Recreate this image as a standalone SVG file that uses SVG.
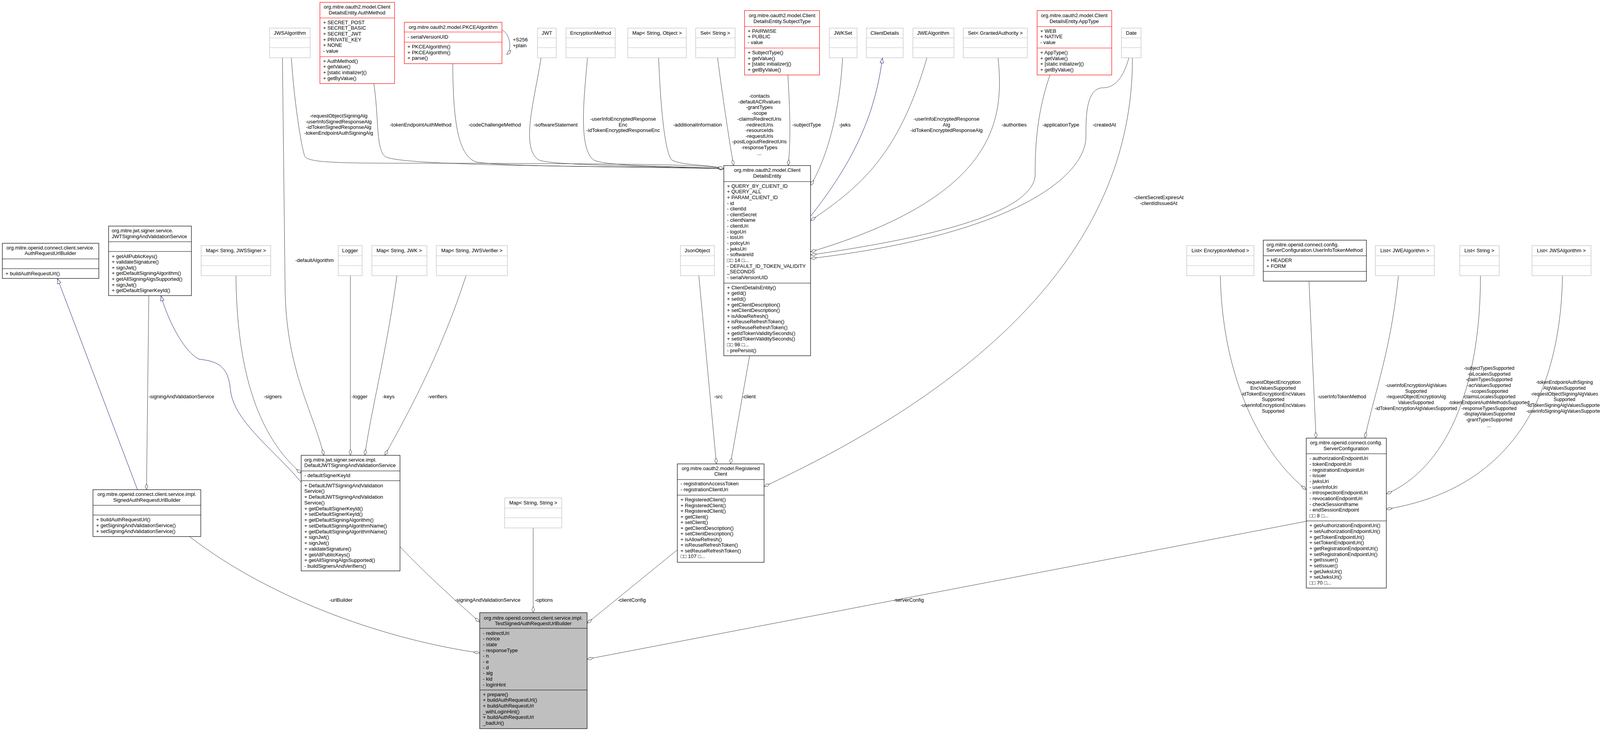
<svg xmlns="http://www.w3.org/2000/svg" width="4287" height="1872" viewBox="0 0 4287 1872">
<style>
text{font-family:"Liberation Sans",Arial,sans-serif;font-size:13px;fill:#000}
.c{text-anchor:middle}
.sm{font-size:12.5px}
.xs{font-size:12px}
.bk{fill:#fff;stroke:#000;stroke-width:1.2}
.gr{fill:#fff;stroke:#bfbfbf;stroke-width:1.2}
.rd{fill:#fff;stroke:#ff0000;stroke-width:1.2}
.main{fill:#bfbfbf;stroke:#000;stroke-width:1.2}
.lb{stroke:#000;stroke-width:1.2}
.lg{stroke:#bfbfbf;stroke-width:1.2}
.lr{stroke:#ff0000;stroke-width:1.2}
.e{fill:none;stroke:#404040;stroke-width:1}
.i{fill:none;stroke:#191970;stroke-width:1}
</style>
<defs>
<marker id="dia" viewBox="0 0 16 8" refX="16" refY="4" markerWidth="16" markerHeight="8" markerUnits="userSpaceOnUse" orient="auto"><path d="M0.5,4 L8,0.5 L15.5,4 L8,7.5 Z" fill="#fff" stroke="#404040"/></marker>
<marker id="tri" viewBox="0 0 14 10" refX="14" refY="5" markerWidth="14" markerHeight="10" markerUnits="userSpaceOnUse" orient="auto"><path d="M0.5,0.5 L13.5,5 L0.5,9.5 Z" fill="#fff" stroke="#191970"/></marker>
</defs>
<rect width="4287" height="1872" fill="#fff"/>

<g id="connectors">
<path class="e" marker-end="url(#dia)" d="M746,148 C752,250 770,370 780,400 C790,420 900,418 1200,418 C1600,420 1800,420 1853,432"/>
<path class="e" marker-end="url(#dia)" d="M957,214 C970,300 962,380 985,400 C1010,425 1500,425 1853,432"/>
<path class="e" marker-end="url(#dia)" d="M1159,163 C1160,300 1170,400 1220,415 C1300,428 1600,425 1853,432"/>
<path class="e" marker-end="url(#dia)" d="M1385,148 C1370,250 1330,380 1380,410 C1420,425 1700,425 1853,432"/>
<path class="e" marker-end="url(#dia)" d="M1504,148 C1495,250 1480,380 1520,410 C1560,428 1750,425 1853,432"/>
<path class="e" marker-end="url(#dia)" d="M1686,148 C1690,250 1700,390 1720,410 C1750,425 1810,420 1853,432"/>
<path class="e" marker-end="url(#dia)" d="M1837,148 C1850,250 1870,380 1878,424"/>
<path class="e" marker-end="url(#dia)" d="M2017,192 C2022,280 2025,350 2018,424"/>
<path class="e" marker-end="url(#dia)" d="M2157,148 C2150,280 2120,400 2075,475"/>
<path class="i" marker-end="url(#tri)" d="M2075,554 C2180,420 2240,300 2259,148"/>
<path class="e" marker-end="url(#dia)" d="M2373,148 C2300,400 2200,480 2075,565"/>
<path class="e" marker-end="url(#dia)" d="M2555,148 C2570,300 2560,500 2075,645"/>
<path class="e" marker-end="url(#dia)" d="M2688,192 C2650,300 2650,400 2650,450 C2640,560 2300,620 2075,653"/>
<path class="e" marker-end="url(#dia)" d="M2890,148 C2870,220 2840,225 2820,225 C2780,230 2780,300 2780,350 C2780,450 2600,600 2075,662"/>
<path class="e" marker-end="url(#dia)" d="M2899,148 C2900,500 2700,900 1956,1246"/>
<path class="e" marker-end="url(#dia)" d="M1285,77 C1305,85 1312,125 1297,140"/>
<path class="e" marker-end="url(#dia)" d="M1789,706 L1834,1188"/>
<path class="e" marker-end="url(#dia)" d="M1919,911 L1870,1188"/>
<path class="e" marker-end="url(#dia)" d="M723,148 L730,750 C735,950 800,1050 829,1166"/>
<path class="e" marker-end="url(#dia)" d="M604,706 C606,900 640,1100 771,1212"/>
<path class="e" marker-end="url(#dia)" d="M897,706 L897,1166"/>
<path class="e" marker-end="url(#dia)" d="M1016,706 C990,900 950,1050 934,1166"/>
<path class="e" marker-end="url(#dia)" d="M1193,706 C1130,900 1050,1050 985,1166"/>
<path class="i" marker-end="url(#tri)" d="M771,1235 C700,1150 600,1080 590,1000 C585,940 560,925 510,920 C470,900 430,820 412,757"/>
<path class="e" marker-end="url(#dia)" d="M381,757 L375,1254"/>
<path class="i" marker-end="url(#tri)" d="M352,1254 L147,713"/>
<path class="e" marker-end="url(#dia)" d="M485,1374 C700,1540 1000,1640 1228,1672"/>
<path class="e" marker-end="url(#dia)" d="M1024,1400 C1100,1480 1180,1550 1228,1593"/>
<path class="e" marker-end="url(#dia)" d="M1365,1352 L1365,1569"/>
<path class="e" marker-end="url(#dia)" d="M1734,1408 L1503,1596"/>
<path class="e" marker-end="url(#dia)" d="M3344,1335 L1503,1688"/>
<path class="e" marker-end="url(#dia)" d="M3124,706 C3130,1000 3250,1180 3344,1254"/>
<path class="e" marker-end="url(#dia)" d="M3351,720 L3369,1122"/>
<path class="e" marker-end="url(#dia)" d="M3580,706 C3560,900 3520,1000 3494,1122"/>
<path class="e" marker-end="url(#dia)" d="M3790,706 C3790,1000 3700,1200 3549,1265"/>
<path class="e" marker-end="url(#dia)" d="M4000,706 C3995,1000 3880,1250 3549,1304"/>

<text x="1313" y="106">+S256</text><text x="1313" y="121">+plain</text>
<text class="c" x="867"><tspan x="867" y="301">-requestObjectSigningAlg</tspan><tspan x="867" y="316">-userInfoSignedResponseAlg</tspan><tspan x="867" y="330">-idTokenSignedResponseAlg</tspan><tspan x="867" y="345">-tokenEndpointAuthSigningAlg</tspan></text>
<text x="998" y="324">-tokenEndpointAuthMethod</text>
<text x="1199" y="324">-codeChallengeMethod</text>
<text x="1366" y="324">-softwareStatement</text>
<text class="c"><tspan x="1595" y="309">-userInfoEncryptedResponse</tspan><tspan x="1595" y="324">Enc</tspan><tspan x="1595" y="338">-idTokenEncryptedResponseEnc</tspan></text>
<text x="1723" y="324">-additionalInformation</text>
<text class="c"><tspan x="1944" y="250">-contacts</tspan><tspan x="1944" y="265">-defaultACRvalues</tspan><tspan x="1944" y="279">-grantTypes</tspan><tspan x="1944" y="294">-scope</tspan><tspan x="1944" y="309">-claimsRedirectUris</tspan><tspan x="1944" y="324">-redirectUris</tspan><tspan x="1944" y="338">-resourceIds</tspan><tspan x="1944" y="353">-requestUris</tspan><tspan x="1944" y="367">-postLogoutRedirectUris</tspan><tspan x="1944" y="382">-responseTypes</tspan><tspan x="1944" y="397">...</tspan></text>
<text x="2028" y="324">-subjectType</text>
<text x="2148" y="324">-jwks</text>
<text class="c"><tspan x="2423" y="309">-userInfoEncryptedResponse</tspan><tspan x="2423" y="324">Alg</tspan><tspan x="2423" y="338">-idTokenEncryptedResponseAlg</tspan></text>
<text x="2564" y="324">-authorities</text>
<text x="2668" y="324">-applicationType</text>
<text x="2797" y="324">-createdAt</text>
<text class="c"><tspan x="2966" y="510">-clientSecretExpiresAt</tspan><tspan x="2966" y="525">-clientIdIssuedAt</tspan></text>
<text x="756" y="671">-defaultAlgorithm</text>
<text x="380" y="1020">-signingAndValidationService</text>
<text x="675" y="1020">-signers</text>
<text x="900" y="1020">-logger</text>
<text x="979" y="1020">-keys</text>
<text x="1095" y="1020">-verifiers</text>
<text x="1828" y="1020">-src</text>
<text x="1900" y="1020">-client</text>
<text x="843" y="1541">-urlBuilder</text>
<text x="1164" y="1541">-signingAndValidationService</text>
<text x="1369" y="1541">-options</text>
<text x="1581" y="1541">-clientConfig</text>
<text x="2287" y="1541">-serverConfig</text>
<text class="c sm"><tspan x="3259" y="983">-requestObjectEncryption</tspan><tspan x="3259" y="998">EncValuesSupported</tspan><tspan x="3259" y="1013">-idTokenEncryptionEncValues</tspan><tspan x="3259" y="1027">Supported</tspan><tspan x="3259" y="1042">-userinfoEncryptionEncValues</tspan><tspan x="3259" y="1057">Supported</tspan></text>
<text class="c sm" x="3435" y="1020">-userInfoTokenMethod</text>
<text class="c xs"><tspan x="3625" y="991">-userinfoEncryptionAlgValues</tspan><tspan x="3625" y="1006">Supported</tspan><tspan x="3625" y="1020">-requestObjectEncryptionAlg</tspan><tspan x="3625" y="1035">ValuesSupported</tspan><tspan x="3625" y="1050">-idTokenEncryptionAlgValuesSupported</tspan></text>
<text class="c xs"><tspan x="3812" y="947">-subjectTypesSupported</tspan><tspan x="3812" y="962">-uiLocalesSupported</tspan><tspan x="3812" y="976">-claimTypesSupported</tspan><tspan x="3812" y="991">-acrValuesSupported</tspan><tspan x="3812" y="1006">-scopesSupported</tspan><tspan x="3812" y="1020">-claimsLocalesSupported</tspan><tspan x="3812" y="1035">-tokenEndpointAuthMethodsSupported</tspan><tspan x="3812" y="1050">-responseTypesSupported</tspan><tspan x="3812" y="1064">-displayValuesSupported</tspan><tspan x="3812" y="1079">-grantTypesSupported</tspan><tspan x="3812" y="1094">...</tspan></text>
<text class="c xs"><tspan x="4005" y="983">-tokenEndpointAuthSigning</tspan><tspan x="4005" y="998">AlgValuesSupported</tspan><tspan x="4005" y="1013">-requestObjectSigningAlgValues</tspan><tspan x="4005" y="1027">Supported</tspan><tspan x="4005" y="1042">-idTokenSigningAlgValuesSupported</tspan><tspan x="4005" y="1057">-userinfoSigningAlgValuesSupported</tspan></text>
</g>

<g id="JWSAlgorithm"><rect class="gr" x="690" y="72" width="104" height="76"/><line class="lg" x1="690" y1="97" x2="794" y2="97"/><line class="lg" x1="690" y1="122" x2="794" y2="122"/><text class="c" x="742" y="89">JWSAlgorithm</text></g>
<g id="AuthMethod"><rect class="rd" x="819" y="6" width="191" height="208"/><line class="lr" x1="819" y1="46" x2="1010" y2="46"/><line class="lr" x1="819" y1="145" x2="1010" y2="145"/>
<text class="c"><tspan x="914" y="22">org.mitre.oauth2.model.Client</tspan><tspan x="914" y="37">DetailsEntity.AuthMethod</tspan></text>
<text><tspan x="827" y="62">+ SECRET_POST</tspan><tspan x="827" y="76">+ SECRET_BASIC</tspan><tspan x="827" y="91">+ SECRET_JWT</tspan><tspan x="827" y="106">+ PRIVATE_KEY</tspan><tspan x="827" y="120">+ NONE</tspan><tspan x="827" y="135">- value</tspan></text>
<text><tspan x="827" y="161">+ AuthMethod()</tspan><tspan x="827" y="175">+ getValue()</tspan><tspan x="827" y="190">+ [static initializer]()</tspan><tspan x="827" y="205">+ getByValue()</tspan></text></g>
<g id="PKCEAlgorithm"><rect class="rd" x="1035" y="57" width="250" height="106"/><line class="lr" x1="1035" y1="82" x2="1285" y2="82"/><line class="lr" x1="1035" y1="108" x2="1285" y2="108"/>
<text class="c" x="1160" y="74">org.mitre.oauth2.model.PKCEAlgorithm</text>
<text x="1043" y="99">- serialVersionUID</text>
<text><tspan x="1043" y="124">+ PKCEAlgorithm()</tspan><tspan x="1043" y="139">+ PKCEAlgorithm()</tspan><tspan x="1043" y="153">+ parse()</tspan></text></g>
<g id="JWT"><rect class="gr" x="1376" y="72" width="48" height="76"/><line class="lg" x1="1376" y1="97" x2="1424" y2="97"/><line class="lg" x1="1376" y1="122" x2="1424" y2="122"/><text class="c" x="1400" y="89">JWT</text></g>
<g id="EncryptionMethod"><rect class="gr" x="1449" y="72" width="126" height="76"/><line class="lg" x1="1449" y1="97" x2="1575" y2="97"/><line class="lg" x1="1449" y1="122" x2="1575" y2="122"/><text class="c" x="1512" y="89">EncryptionMethod</text></g>
<g id="MapStringObject"><rect class="gr" x="1607" y="72" width="150" height="76"/><line class="lg" x1="1607" y1="97" x2="1757" y2="97"/><line class="lg" x1="1607" y1="122" x2="1757" y2="122"/><text class="c" x="1682" y="89">Map&lt; String, Object &gt;</text></g>
<g id="SetString"><rect class="gr" x="1781" y="72" width="101" height="76"/><line class="lg" x1="1781" y1="97" x2="1882" y2="97"/><line class="lg" x1="1781" y1="122" x2="1882" y2="122"/><text class="c" x="1831" y="89">Set&lt; String &gt;</text></g>
<g id="SubjectType"><rect class="rd" x="1906" y="27" width="192" height="165"/><line class="lr" x1="1906" y1="68" x2="2098" y2="68"/><line class="lr" x1="1906" y1="123" x2="2098" y2="123"/>
<text class="c"><tspan x="2002" y="44">org.mitre.oauth2.model.Client</tspan><tspan x="2002" y="59">DetailsEntity.SubjectType</tspan></text>
<text><tspan x="1914" y="84">+ PAIRWISE</tspan><tspan x="1914" y="98">+ PUBLIC</tspan><tspan x="1914" y="113">- value</tspan></text>
<text><tspan x="1914" y="139">+ SubjectType()</tspan><tspan x="1914" y="154">+ getValue()</tspan><tspan x="1914" y="168">+ [static initializer]()</tspan><tspan x="1914" y="183">+ getByValue()</tspan></text></g>
<g id="JWKSet"><rect class="gr" x="2123" y="72" width="71" height="76"/><line class="lg" x1="2123" y1="97" x2="2194" y2="97"/><line class="lg" x1="2123" y1="122" x2="2194" y2="122"/><text class="c" x="2158" y="89">JWKSet</text></g>
<g id="ClientDetails"><rect class="gr" x="2218" y="72" width="94" height="76"/><line class="lg" x1="2218" y1="97" x2="2312" y2="97"/><line class="lg" x1="2218" y1="122" x2="2312" y2="122"/><text class="c" x="2265" y="89">ClientDetails</text></g>
<g id="JWEAlgorithm"><rect class="gr" x="2337" y="72" width="105" height="76"/><line class="lg" x1="2337" y1="97" x2="2442" y2="97"/><line class="lg" x1="2337" y1="122" x2="2442" y2="122"/><text class="c" x="2389" y="89">JWEAlgorithm</text></g>
<g id="SetGrantedAuthority"><rect class="gr" x="2466" y="72" width="164" height="76"/><line class="lg" x1="2466" y1="97" x2="2630" y2="97"/><line class="lg" x1="2466" y1="122" x2="2630" y2="122"/><text class="c" x="2548" y="89">Set&lt; GrantedAuthority &gt;</text></g>
<g id="AppType"><rect class="rd" x="2655" y="27" width="191" height="165"/><line class="lr" x1="2655" y1="68" x2="2846" y2="68"/><line class="lr" x1="2655" y1="123" x2="2846" y2="123"/>
<text class="c"><tspan x="2750" y="44">org.mitre.oauth2.model.Client</tspan><tspan x="2750" y="59">DetailsEntity.AppType</tspan></text>
<text><tspan x="2663" y="84">+ WEB</tspan><tspan x="2663" y="98">+ NATIVE</tspan><tspan x="2663" y="113">- value</tspan></text>
<text><tspan x="2663" y="139">+ AppType()</tspan><tspan x="2663" y="154">+ getValue()</tspan><tspan x="2663" y="168">+ [static initializer]()</tspan><tspan x="2663" y="183">+ getByValue()</tspan></text></g>
<g id="Date"><rect class="gr" x="2871" y="72" width="50" height="76"/><line class="lg" x1="2871" y1="97" x2="2921" y2="97"/><line class="lg" x1="2871" y1="122" x2="2921" y2="122"/><text class="c" x="2896" y="89">Date</text></g>

<g id="ClientDetailsEntity"><rect class="bk" x="1853" y="424" width="222" height="487"/><line class="lb" x1="1853" y1="465" x2="2075" y2="465"/><line class="lb" x1="1853" y1="725" x2="2075" y2="725"/>
<text class="c"><tspan x="1964" y="440">org.mitre.oauth2.model.Client</tspan><tspan x="1964" y="455">DetailsEntity</tspan></text>
<text><tspan x="1861" y="481">+ QUERY_BY_CLIENT_ID</tspan><tspan x="1861" y="495">+ QUERY_ALL</tspan><tspan x="1861" y="510">+ PARAM_CLIENT_ID</tspan><tspan x="1861" y="525">- id</tspan><tspan x="1861" y="539">- clientId</tspan><tspan x="1861" y="554">- clientSecret</tspan><tspan x="1861" y="568">- clientName</tspan><tspan x="1861" y="583">- clientUri</tspan><tspan x="1861" y="598">- logoUri</tspan><tspan x="1861" y="612">- tosUri</tspan><tspan x="1861" y="627">- policyUri</tspan><tspan x="1861" y="642">- jwksUri</tspan><tspan x="1861" y="656">- softwareId</tspan><tspan x="1861" y="671">□□ 14 □...</tspan><tspan x="1861" y="686">- DEFAULT_ID_TOKEN_VALIDITY</tspan><tspan x="1861" y="700">_SECONDS</tspan><tspan x="1861" y="715">- serialVersionUID</tspan></text>
<text><tspan x="1861" y="741">+ ClientDetailsEntity()</tspan><tspan x="1861" y="755">+ getId()</tspan><tspan x="1861" y="770">+ setId()</tspan><tspan x="1861" y="785">+ getClientDescription()</tspan><tspan x="1861" y="799">+ setClientDescription()</tspan><tspan x="1861" y="814">+ isAllowRefresh()</tspan><tspan x="1861" y="828">+ isReuseRefreshToken()</tspan><tspan x="1861" y="843">+ setReuseRefreshToken()</tspan><tspan x="1861" y="858">+ getIdTokenValiditySeconds()</tspan><tspan x="1861" y="872">+ setIdTokenValiditySeconds()</tspan><tspan x="1861" y="887">□□ 98 □...</tspan><tspan x="1861" y="902">- prePersist()</tspan></text></g>

<g id="AuthRequestUrlBuilder"><rect class="bk" x="6" y="623" width="247" height="90"/><line class="lb" x1="6" y1="663" x2="253" y2="663"/><line class="lb" x1="6" y1="688" x2="253" y2="688"/>
<text class="c"><tspan x="129" y="639">org.mitre.openid.connect.client.service.</tspan><tspan x="129" y="653">AuthRequestUrlBuilder</tspan></text>
<text x="14" y="705">+ buildAuthRequestUrl()</text></g>
<g id="JWTSigningAndValidationService"><rect class="bk" x="278" y="579" width="212" height="178"/><line class="lb" x1="278" y1="619" x2="490" y2="619"/><line class="lb" x1="278" y1="644" x2="490" y2="644"/>
<text><tspan x="286" y="595">org.mitre.jwt.signer.service.</tspan><tspan x="286" y="610">JWTSigningAndValidationService</tspan></text>
<text><tspan x="286" y="661">+ getAllPublicKeys()</tspan><tspan x="286" y="675">+ validateSignature()</tspan><tspan x="286" y="690">+ signJwt()</tspan><tspan x="286" y="704">+ getDefaultSigningAlgorithm()</tspan><tspan x="286" y="719">+ getAllSigningAlgsSupported()</tspan><tspan x="286" y="734">+ signJwt()</tspan><tspan x="286" y="748">+ getDefaultSignerKeyId()</tspan></text></g>
<g id="MapStringJWSSigner"><rect class="gr" x="515" y="629" width="178" height="77"/><line class="lg" x1="515" y1="655" x2="693" y2="655"/><line class="lg" x1="515" y1="680" x2="693" y2="680"/><text class="c" x="604" y="646">Map&lt; String, JWSSigner &gt;</text></g>
<g id="Logger"><rect class="gr" x="866" y="629" width="61" height="77"/><line class="lg" x1="866" y1="655" x2="927" y2="655"/><line class="lg" x1="866" y1="680" x2="927" y2="680"/><text class="c" x="896" y="646">Logger</text></g>
<g id="MapStringJWK"><rect class="gr" x="952" y="629" width="141" height="77"/><line class="lg" x1="952" y1="655" x2="1093" y2="655"/><line class="lg" x1="952" y1="680" x2="1093" y2="680"/><text class="c" x="1022" y="646">Map&lt; String, JWK &gt;</text></g>
<g id="MapStringJWSVerifier"><rect class="gr" x="1117" y="629" width="182" height="77"/><line class="lg" x1="1117" y1="655" x2="1299" y2="655"/><line class="lg" x1="1117" y1="680" x2="1299" y2="680"/><text class="c" x="1208" y="646">Map&lt; String, JWSVerifier &gt;</text></g>
<g id="JsonObject"><rect class="gr" x="1742" y="629" width="87" height="77"/><line class="lg" x1="1742" y1="655" x2="1829" y2="655"/><line class="lg" x1="1742" y1="680" x2="1829" y2="680"/><text class="c" x="1785" y="646">JsonObject</text></g>

<g id="DefaultJWTSigningAndValidationService"><rect class="bk" x="771" y="1166" width="253" height="296"/><line class="lb" x1="771" y1="1206" x2="1024" y2="1206"/><line class="lb" x1="771" y1="1231" x2="1024" y2="1231"/>
<text><tspan x="779" y="1182">org.mitre.jwt.signer.service.impl.</tspan><tspan x="779" y="1196">DefaultJWTSigningAndValidationService</tspan></text>
<text x="779" y="1222">- defaultSignerKeyId</text>
<text><tspan x="779" y="1248">+ DefaultJWTSigningAndValidation</tspan><tspan x="779" y="1262">Service()</tspan><tspan x="779" y="1277">+ DefaultJWTSigningAndValidation</tspan><tspan x="779" y="1292">Service()</tspan><tspan x="779" y="1307">+ getDefaultSignerKeyId()</tspan><tspan x="779" y="1321">+ setDefaultSignerKeyId()</tspan><tspan x="779" y="1336">+ getDefaultSigningAlgorithm()</tspan><tspan x="779" y="1351">+ setDefaultSigningAlgorithmName()</tspan><tspan x="779" y="1366">+ getDefaultSigningAlgorithmName()</tspan><tspan x="779" y="1380">+ signJwt()</tspan><tspan x="779" y="1395">+ signJwt()</tspan><tspan x="779" y="1410">+ validateSignature()</tspan><tspan x="779" y="1425">+ getAllPublicKeys()</tspan><tspan x="779" y="1439">+ getAllSigningAlgsSupported()</tspan><tspan x="779" y="1454">- buildSignersAndVerifiers()</tspan></text></g>
<g id="SignedAuthRequestUrlBuilder"><rect class="bk" x="238" y="1254" width="276" height="120"/><line class="lb" x1="238" y1="1294" x2="514" y2="1294"/><line class="lb" x1="238" y1="1319" x2="514" y2="1319"/>
<text class="c"><tspan x="376" y="1270">org.mitre.openid.connect.client.service.impl.</tspan><tspan x="376" y="1285">SignedAuthRequestUrlBuilder</tspan></text>
<text><tspan x="246" y="1335">+ buildAuthRequestUrl()</tspan><tspan x="246" y="1350">+ getSigningAndValidationService()</tspan><tspan x="246" y="1365">+ setSigningAndValidationService()</tspan></text></g>
<g id="MapStringString"><rect class="gr" x="1292" y="1275" width="146" height="77"/><line class="lg" x1="1292" y1="1301" x2="1438" y2="1301"/><line class="lg" x1="1292" y1="1326" x2="1438" y2="1326"/><text class="c" x="1365" y="1292">Map&lt; String, String &gt;</text></g>
<g id="RegisteredClient"><rect class="bk" x="1734" y="1188" width="222" height="252"/><line class="lb" x1="1734" y1="1228" x2="1956" y2="1228"/><line class="lb" x1="1734" y1="1268" x2="1956" y2="1268"/>
<text class="c"><tspan x="1845" y="1204">org.mitre.oauth2.model.Registered</tspan><tspan x="1845" y="1218">Client</tspan></text>
<text><tspan x="1742" y="1243">- registrationAccessToken</tspan><tspan x="1742" y="1258">- registrationClientUri</tspan></text>
<text><tspan x="1742" y="1284">+ RegisteredClient()</tspan><tspan x="1742" y="1299">+ RegisteredClient()</tspan><tspan x="1742" y="1313">+ RegisteredClient()</tspan><tspan x="1742" y="1328">+ getClient()</tspan><tspan x="1742" y="1342">+ setClient()</tspan><tspan x="1742" y="1357">+ getClientDescription()</tspan><tspan x="1742" y="1371">+ setClientDescription()</tspan><tspan x="1742" y="1386">+ isAllowRefresh()</tspan><tspan x="1742" y="1400">+ isReuseRefreshToken()</tspan><tspan x="1742" y="1415">+ setReuseRefreshToken()</tspan><tspan x="1742" y="1429">□□ 107 □...</tspan></text></g>

<g id="TestSignedAuthRequestUrlBuilder"><rect class="main" x="1228" y="1569" width="275" height="297"/><line class="lb" x1="1228" y1="1609" x2="1503" y2="1609"/><line class="lb" x1="1228" y1="1767" x2="1503" y2="1767"/>
<text class="c"><tspan x="1365" y="1587">org.mitre.openid.connect.client.service.impl.</tspan><tspan x="1365" y="1601">TestSignedAuthRequestUrlBuilder</tspan></text>
<text><tspan x="1236" y="1626">- redirectUri</tspan><tspan x="1236" y="1640">- nonce</tspan><tspan x="1236" y="1655">- state</tspan><tspan x="1236" y="1670">- responseType</tspan><tspan x="1236" y="1684">- n</tspan><tspan x="1236" y="1699">- e</tspan><tspan x="1236" y="1714">- d</tspan><tspan x="1236" y="1728">- alg</tspan><tspan x="1236" y="1743">- kid</tspan><tspan x="1236" y="1758">- loginHint</tspan></text>
<text><tspan x="1236" y="1783">+ prepare()</tspan><tspan x="1236" y="1797">+ buildAuthRequestUrl()</tspan><tspan x="1236" y="1812">+ buildAuthRequestUrl</tspan><tspan x="1236" y="1827">_withLoginHint()</tspan><tspan x="1236" y="1841">+ buildAuthRequestUrl</tspan><tspan x="1236" y="1856">_badUri()</tspan></text></g>

<g id="ListEncryptionMethod"><rect class="gr" x="3038" y="629" width="172" height="77"/><line class="lg" x1="3038" y1="655" x2="3210" y2="655"/><line class="lg" x1="3038" y1="680" x2="3210" y2="680"/><text class="c" x="3124" y="646">List&lt; EncryptionMethod &gt;</text></g>
<g id="UserInfoTokenMethod"><rect class="bk" x="3234" y="615" width="264" height="105"/><line class="lb" x1="3234" y1="655" x2="3498" y2="655"/><line class="lb" x1="3234" y1="695" x2="3498" y2="695"/>
<text><tspan x="3242" y="631">org.mitre.openid.connect.config.</tspan><tspan x="3242" y="645">ServerConfiguration.UserInfoTokenMethod</tspan></text>
<text><tspan x="3242" y="671">+ HEADER</tspan><tspan x="3242" y="686">+ FORM</tspan></text></g>
<g id="ListJWEAlgorithm"><rect class="gr" x="3521" y="629" width="151" height="77"/><line class="lg" x1="3521" y1="655" x2="3672" y2="655"/><line class="lg" x1="3521" y1="680" x2="3672" y2="680"/><text class="c" x="3596" y="646">List&lt; JWEAlgorithm &gt;</text></g>
<g id="ListString"><rect class="gr" x="3737" y="629" width="101" height="77"/><line class="lg" x1="3737" y1="655" x2="3838" y2="655"/><line class="lg" x1="3737" y1="680" x2="3838" y2="680"/><text class="c" x="3787" y="646">List&lt; String &gt;</text></g>
<g id="ListJWSAlgorithm"><rect class="gr" x="3922" y="629" width="151" height="77"/><line class="lg" x1="3922" y1="655" x2="4073" y2="655"/><line class="lg" x1="3922" y1="680" x2="4073" y2="680"/><text class="c" x="3997" y="646">List&lt; JWSAlgorithm &gt;</text></g>
<g id="ServerConfiguration"><rect class="bk" x="3344" y="1122" width="205" height="384"/><line class="lb" x1="3344" y1="1162" x2="3549" y2="1162"/><line class="lb" x1="3344" y1="1334" x2="3549" y2="1334"/>
<text class="c"><tspan x="3446" y="1138">org.mitre.openid.connect.config.</tspan><tspan x="3446" y="1153">ServerConfiguration</tspan></text>
<text><tspan x="3352" y="1178">- authorizationEndpointUri</tspan><tspan x="3352" y="1193">- tokenEndpointUri</tspan><tspan x="3352" y="1208">- registrationEndpointUri</tspan><tspan x="3352" y="1222">- issuer</tspan><tspan x="3352" y="1237">- jwksUri</tspan><tspan x="3352" y="1252">- userInfoUri</tspan><tspan x="3352" y="1266">- introspectionEndpointUri</tspan><tspan x="3352" y="1281">- revocationEndpointUri</tspan><tspan x="3352" y="1296">- checkSessionIframe</tspan><tspan x="3352" y="1310">- endSessionEndpoint</tspan><tspan x="3352" y="1325">□□ 8 □...</tspan></text>
<text><tspan x="3352" y="1350">+ getAuthorizationEndpointUri()</tspan><tspan x="3352" y="1365">+ setAuthorizationEndpointUri()</tspan><tspan x="3352" y="1380">+ getTokenEndpointUri()</tspan><tspan x="3352" y="1394">+ setTokenEndpointUri()</tspan><tspan x="3352" y="1409">+ getRegistrationEndpointUri()</tspan><tspan x="3352" y="1424">+ setRegistrationEndpointUri()</tspan><tspan x="3352" y="1438">+ getIssuer()</tspan><tspan x="3352" y="1453">+ setIssuer()</tspan><tspan x="3352" y="1468">+ getJwksUri()</tspan><tspan x="3352" y="1482">+ setJwksUri()</tspan><tspan x="3352" y="1497">□□ 70 □...</tspan></text></g>
</svg>
